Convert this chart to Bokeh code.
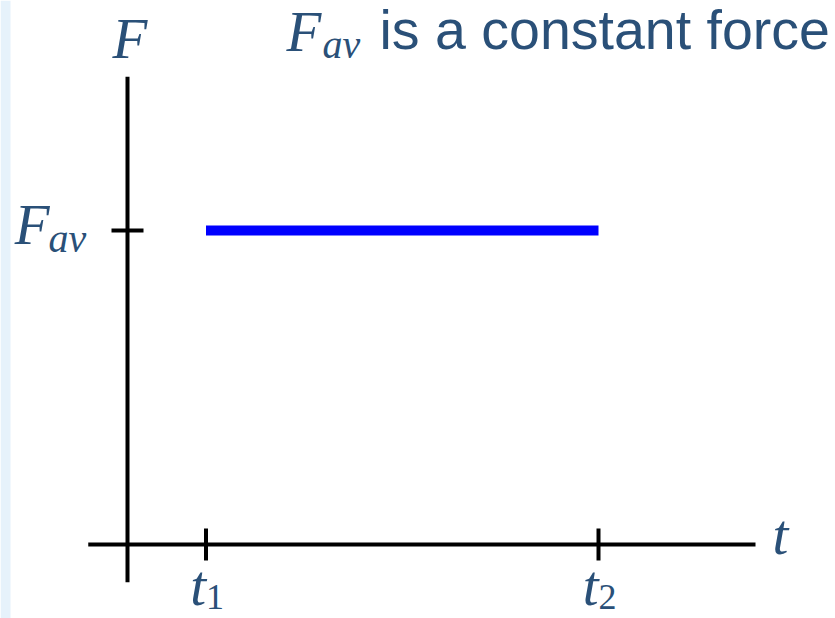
from bokeh.plotting import figure
from bokeh.models import Range1d, BoxAnnotation
from bokeh.core.properties import value
from bokeh.embed import file_html
from bokeh.resources import INLINE

# ---------------- data ----------------
time_ticks = [1, 6]                 # t1, t2
time_tick_names = ["t", "t"]
time_tick_subs = ["1", "2"]
force_level = 1.0                   # F_av
pulse_t = [1, 6]                    # constant force acts from t1 to t2
pulse_F = [force_level, force_level]
x_axis_span = [-0.5, 8.0]
y_axis_span = [-0.12, 1.49]
x_axis_name = "t"
y_axis_name = "F"
force_name = "F"
force_sub = "av"
title_rest = "is a constant force"

# ---------------- layout / style ----------------
W, H = 835, 618
X_PX = 78.5        # pixels per unit of t
Y_PX = 314.0       # pixels per unit of F
ORIGIN_X = 127.0   # pixel column of t = 0 (from left)
ORIGIN_Y = 544.0   # pixel row of F = 0 (from top)
TICK = 16          # half tick length in px
TXT = "#2a5078"
MATH_FONT = "Liberation Serif"
SANS_FONT = "Liberation Sans"
MAIN_SIZE = "57px"
SUB_SIZE = "40px"
DIGIT_SIZE = "36px"


def px_x(px):
    return (px - ORIGIN_X) / X_PX


def px_y(py):
    return (ORIGIN_Y - py) / Y_PX


p = figure(width=W, height=H, output_backend="svg", toolbar_location=None,
           x_range=Range1d(px_x(0), px_x(W)), y_range=Range1d(px_y(H), px_y(0)),
           min_border=0, outline_line_color=None)
p.axis.visible = False
p.grid.visible = False
p.background_fill_color = "white"
p.border_fill_color = "white"

# left decorative strip of the slide
p.add_layout(BoxAnnotation(right=10, right_units="screen", fill_color="#e6f2fb",
                           fill_alpha=1, line_color=None, level="underlay"))

# axes
p.segment(x0=[x_axis_span[0]], y0=[0], x1=[x_axis_span[1]], y1=[0],
          line_color="black", line_width=4)
p.segment(x0=[0], y0=[y_axis_span[0]], x1=[0], y1=[y_axis_span[1]],
          line_color="black", line_width=4)

# ticks
dy = TICK / Y_PX
dx = TICK / X_PX
p.segment(x0=time_ticks, y0=[-dy] * len(time_ticks), x1=time_ticks,
          y1=[dy] * len(time_ticks), line_color="black", line_width=4)
p.segment(x0=[-dx], y0=[force_level], x1=[dx], y1=[force_level],
          line_color="black", line_width=4)

# constant force
p.line(pulse_t, pulse_F, line_color="#0000ff", line_width=10, line_cap="butt")

math = dict(text_color=TXT, text_font=value(MATH_FONT), text_font_style="italic",
            text_baseline="middle")
digits = dict(text_color=TXT, text_font=value(MATH_FONT), text_font_style="normal",
              text_baseline="middle")

# time tick labels
p.text(x=time_ticks, y=[0] * len(time_ticks), text=time_tick_names,
       text_align="right", x_offset=0, y_offset=41, text_font_size=MAIN_SIZE, **math)
p.text(x=time_ticks, y=[0] * len(time_ticks), text=time_tick_subs,
       text_align="left", x_offset=0, y_offset=52, text_font_size=DIGIT_SIZE, **digits)

# force tick label
p.text(x=[0], y=[force_level], text=[force_name], text_align="right",
       x_offset=-78, y_offset=-6, text_font_size=MAIN_SIZE, **math)
p.text(x=[0], y=[force_level], text=[force_sub], text_align="left",
       x_offset=-79, y_offset=8, text_font_size=SUB_SIZE, **math)

# axis names
p.text(x=[x_axis_span[1]], y=[0], text=[x_axis_name], text_align="left",
       x_offset=17, y_offset=-10, text_font_size=MAIN_SIZE, **math)
p.text(x=[0], y=[y_axis_span[1]], text=[y_axis_name], text_align="left",
       x_offset=-15, y_offset=-38, text_font_size=MAIN_SIZE, **math)

# title: F_av is a constant force
p.text(x=[px_x(286)], y=[px_y(31)], text=[force_name], text_align="left",
       text_font_size=MAIN_SIZE, **math)
p.text(x=[px_x(322)], y=[px_y(44)], text=[force_sub], text_align="left",
       text_font_size=SUB_SIZE, **math)
p.text(x=[px_x(379)], y=[px_y(29)], text=[title_rest], text_align="left",
       text_baseline="middle", text_color=TXT, text_font=value(SANS_FONT),
       text_font_size="55.5px")

open("out.html", "w").write(file_html(p, INLINE))
